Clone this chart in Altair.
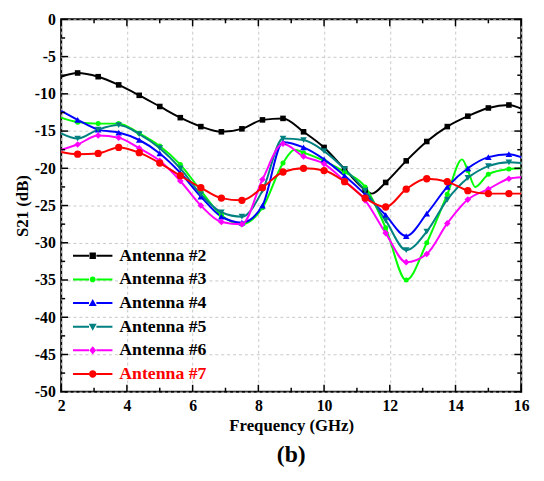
import altair as alt
import pandas as pd

freq = [2.0, 2.5, 3.125, 3.75, 4.375, 5.0, 5.625, 6.25, 6.875, 7.5, 8.125, 8.75,
        9.375, 10.0, 10.625, 11.25, 11.875, 12.5, 13.125, 13.75, 14.375, 15.0, 15.625, 16.0]
marker_freq = freq[1:-1]

ant2 = [-7.7, -7.2, -7.7, -8.8, -10.2, -11.7, -13.2, -14.4, -15.1, -14.7, -13.5, -13.3,
        -15.1, -17.2, -20.1, -22.9, -21.9, -19.0, -16.4, -14.4, -13.0, -11.9, -11.5, -12.0]
ant3 = [-13.2, -13.8, -14.0, -14.0, -15.3, -17.0, -19.5, -23.0, -26.3, -27.5, -25.3, -19.3,
        -17.9, -19.0, -20.5, -22.5, -28.0, -35.0, -30.0, -23.5, -20.3, -20.8, -20.1, -20.0]
ant4 = [-12.3, -13.5, -14.8, -15.2, -16.2, -18.0, -20.6, -23.8, -26.5, -27.3, -25.0, -16.5,
        -17.2, -18.8, -21.0, -23.5, -26.3, -29.1, -26.1, -22.5, -20.0, -18.5, -18.1, -18.5]
ant5 = [-15.3, -16.0, -14.8, -14.2, -15.4, -17.3, -20.0, -23.5, -25.9, -26.5, -23.0, -16.0,
        -16.2, -17.7, -20.1, -23.0, -27.0, -31.0, -28.5, -24.2, -21.3, -19.7, -19.2, -19.3]
ant6 = [-17.5, -16.8, -15.6, -15.9, -17.3, -19.0, -21.7, -25.0, -27.2, -27.5, -21.5, -16.7,
        -18.4, -19.4, -21.7, -24.3, -28.7, -32.6, -31.5, -27.4, -24.2, -22.8, -21.4, -21.2]
ant7 = [-17.8, -18.1, -18.0, -17.2, -17.9, -19.3, -21.0, -22.6, -24.0, -24.3, -22.6, -20.5,
        -20.0, -20.3, -21.8, -24.0, -25.2, -22.8, -21.4, -21.8, -23.0, -23.4, -23.4, -23.4]

extra2 = [(11.45, -23.4)]
extra3 = [(9.1, -17.5), (14.2, -18.8), (14.6, -22.5)]

series = ["Antenna #2", "Antenna #3", "Antenna #4", "Antenna #5", "Antenna #6", "Antenna #7"]
values = [ant2, ant3, ant4, ant5, ant6, ant7]
extras = [extra2, extra3, [], [], [], []]
colors = ["#000000", "#00ff00", "#0000ff", "#008080", "#ff00ff", "#ff0000"]
shapes = ["square", "circle", "triangle-up", "triangle-down", "diamond", "circle"]
sizes = [32, 26, 45, 45, 45, 55]

x_major = list(range(2, 17, 2))
x_minor = list(range(3, 16, 2))
y_major = list(range(-50, 1, 5))
y_minor = [-47.5 + 5 * i for i in range(10)]

line_part = "M-4,-0.2H-0.75V0.2H-4Z M0.75,-0.2H4V0.2H0.75Z "
legend_paths = [
    line_part + "M-0.65,-0.65H0.65V0.65H-0.65Z",
    line_part + "M-0.6,0A0.6,0.6,0,1,0,0.6,0A0.6,0.6,0,1,0,-0.6,0Z",
    line_part + "M0,-0.8L0.8,0.6H-0.8Z",
    line_part + "M0,0.8L0.8,-0.6H-0.8Z",
    line_part + "M0,-0.85L0.7,0L0,0.85L-0.7,0Z",
    line_part + "M-0.75,0A0.75,0.75,0,1,0,0.75,0A0.75,0.75,0,1,0,-0.75,0Z",
]

rows = []
for name, vals, ex in zip(series, values, extras):
    for f, v in zip(freq, vals):
        rows.append({"series": name, "f": f, "db": v, "m": f in marker_freq})
    for f, v in ex:
        rows.append({"series": name, "f": f, "db": v, "m": False})
df = pd.DataFrame(rows)

W, H = 467, 378
FONT = "Liberation Serif"
xs = alt.Scale(domain=[2, 16], nice=False, zero=False)
ys = alt.Scale(domain=[-50, 0], nice=False)

x_axis = alt.Axis(values=x_major, labelExpr="'' + datum.value", ticks=False, labelPadding=6,
                  grid=True, gridDash=[3, 3], gridColor="#c8c8c8",
                  labelFontSize=16, titleFontSize=17, titlePadding=4, labelFlush=False)
y_axis = alt.Axis(values=y_major, labelExpr="'' + datum.value", ticks=False, labelPadding=6,
                  grid=True, gridDash=[3, 3], gridColor="#c8c8c8",
                  labelFontSize=16, titleFontSize=17, titlePadding=3, labelFlush=False)
X_TITLE = "Frequency (GHz)"
Y_TITLE = "S21 (dB)"

leg = alt.Legend(
    title=None, orient="none", legendX=23, legendY=231, symbolSize=100,
    labelOffset=18, labelFont=FONT, labelFontSize=18, labelFontWeight="bold",
    labelColor={"expr": "datum.label == 'Antenna #7' ? '#ff0000' : '#000000'"},
    rowPadding=6, padding=0, symbolStrokeWidth=0, symbolOpacity=1,
)


def X(field):
    return alt.X(field, axis=x_axis, title=X_TITLE)


def Y(field):
    return alt.Y(field, axis=y_axis, title=Y_TITLE)


base = alt.Chart(df)

line = base.mark_line(strokeWidth=2, interpolate="monotone").encode(
    x=alt.X("f:Q", scale=xs, axis=x_axis, title=X_TITLE),
    y=alt.Y("db:Q", scale=ys, axis=y_axis, title=Y_TITLE),
    color=alt.Color("series:N", scale=alt.Scale(domain=series, range=colors), legend=leg),
)

point_layers = []
for name, shp, sz in zip(series, shapes, sizes):
    point_layers.append(
        base.transform_filter((alt.datum.series == name) & alt.datum.m)
        .mark_point(shape=shp, filled=True, size=sz, opacity=1, strokeWidth=0)
        .encode(x=X("f:Q"), y=Y("db:Q"), color=alt.Color("series:N", legend=leg))
    )

legend_layer = base.transform_filter("datum.f < 0").mark_point(filled=True, opacity=1).encode(
    x=X("f:Q"),
    y=Y("db:Q"),
    color=alt.Color("series:N", legend=leg),
    shape=alt.Shape("series:N", scale=alt.Scale(domain=series, range=legend_paths), legend=leg),
)


# inward tick marks on all four sides, placed through the shared scales
def x_ticks(vals, y0, y1):
    return alt.Chart(pd.DataFrame({"v": vals})).mark_rule(color="black", strokeWidth=1.5).encode(
        x=X("v:Q"), y=alt.value(y0), y2=alt.value(y1))


def y_ticks(vals, x0, x1):
    return alt.Chart(pd.DataFrame({"v": vals})).mark_rule(color="black", strokeWidth=1.5).encode(
        y=Y("v:Q"), x=alt.value(x0), x2=alt.value(x1))


tick_layers = [
    x_ticks(x_major, H, H - 7), x_ticks(x_minor, H, H - 4),
    x_ticks(x_major, 0, 7), x_ticks(x_minor, 0, 4),
    y_ticks(y_major, 0, 7), y_ticks(y_minor, 0, 4),
    y_ticks(y_major, W, W - 7), y_ticks(y_minor, W, W - 4),
]

chart = (
    alt.layer(line, *point_layers, *tick_layers, legend_layer)
    .properties(
        width=W, height=H,
        padding={"left": 54, "top": 8, "right": 15, "bottom": 80},
        autosize=alt.AutoSizeParams(type="none"),
        background="white",
        title=alt.TitleParams(text="(b)", orient="bottom", anchor="middle", fontSize=24,
                              font=FONT, fontWeight="bold", offset=10, color="#000000"),
    )
    .configure_view(stroke="black", strokeWidth=2)
    .configure_axis(domain=False, labelFont=FONT, titleFont=FONT, labelFontWeight="bold",
                    titleFontWeight="bold", labelColor="black", titleColor="black")
)

chart.save("out.html", embed_options={"renderer": "svg", "actions": False})
